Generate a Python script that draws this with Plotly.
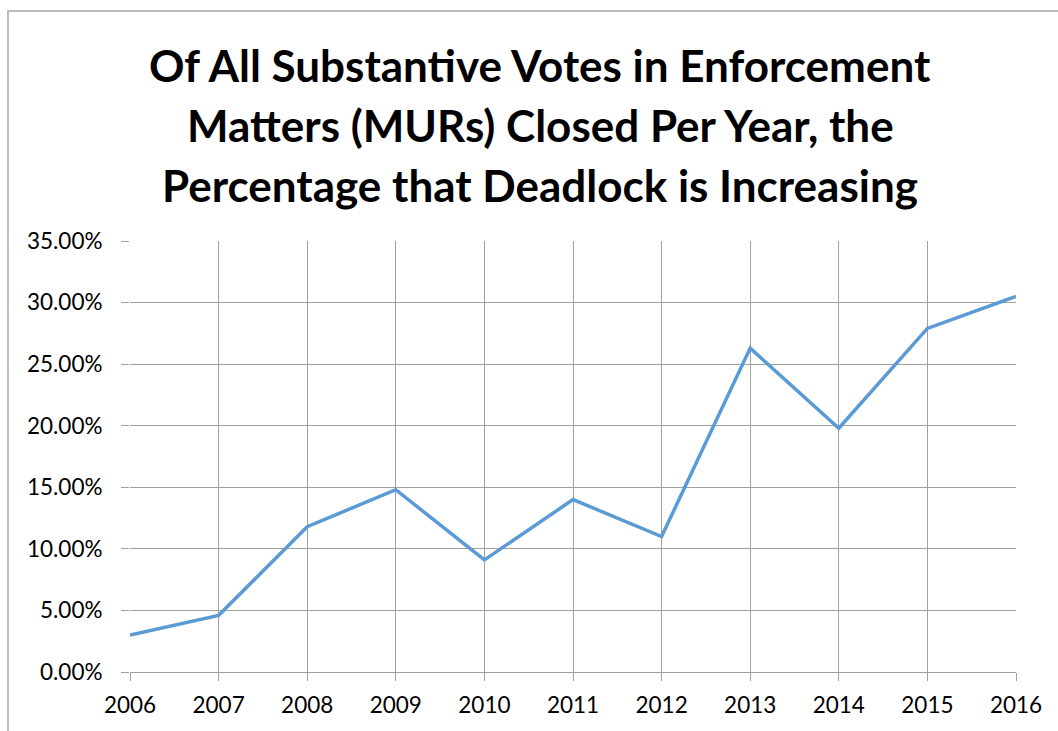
import plotly.graph_objects as go

years = [2006, 2007, 2008, 2009, 2010, 2011, 2012, 2013, 2014, 2015, 2016]
deadlock_pct = [0.030, 0.046, 0.118, 0.148, 0.091, 0.140, 0.110, 0.263, 0.198, 0.279, 0.305]
y_ticks = [0, 0.05, 0.10, 0.15, 0.20, 0.25, 0.30, 0.35]
title_lines = [
    "Of All Substantive Votes in Enforcement",
    "Matters (MURs) Closed Per Year, the",
    "Percentage that Deadlock is Increasing",
]

W, H = 1058, 731
L, R, T, B = 130, 42, 241, 59
pw, ph = W - L - R, H - T - B

fig = go.Figure()
fig.add_trace(go.Scatter(
    x=years, y=deadlock_pct, mode="lines",
    line=dict(color="#5B9BD5", width=3.5),
    hoverinfo="x+y",
))

grid = "#A0A0A0"
fig.update_layout(
    width=W, height=H,
    margin=dict(l=L, r=R, t=T, b=B),
    paper_bgcolor="white", plot_bgcolor="white",
    showlegend=False,
    font=dict(family="Lato, Open Sans, sans-serif", color="black"),
    xaxis=dict(
        range=[2006, 2016], tickvals=years, ticktext=[str(y) for y in years],
        showgrid=True, gridcolor=grid, gridwidth=1.3,
        showline=True, linecolor=grid, linewidth=1.3,
        ticks="outside", ticklen=8, tickcolor=grid, tickwidth=1.3,
        tickfont=dict(size=22.5), ticklabelstandoff=5,
        zeroline=False, fixedrange=True,
    ),
    yaxis=dict(
        range=[0, 0.35], tickvals=y_ticks, tickformat=".2%",
        showgrid=True, gridcolor=grid, gridwidth=1.3,
        showline=False,
        ticks="outside", ticklen=8, tickcolor=grid, tickwidth=1.3,
        tickfont=dict(size=22.5), ticklabelstandoff=14,
        zeroline=False, fixedrange=True,
    ),
)

# chart border
fig.add_shape(type="rect", xref="paper", yref="paper",
              x0=(8 - L) / pw, x1=(W + 20 - L) / pw,
              y0=-(H + 20 - T - ph) / ph, y1=1 + (T - 11) / ph,
              line=dict(color="#A6A6A6", width=1.5), fillcolor="rgba(0,0,0,0)",
              layer="below")

title_y = [65, 125, 185]
for text, yc in zip(title_lines, title_y):
    fig.add_annotation(
        text="<b>" + text + "</b>", showarrow=False,
        xref="paper", yref="paper",
        x=(540 - L) / pw, y=1 + (T - yc) / ph,
        xanchor="center", yanchor="middle",
        font=dict(size=44, family="Lato, Open Sans, sans-serif", color="black"),
    )

fig.write_html("out.html")
